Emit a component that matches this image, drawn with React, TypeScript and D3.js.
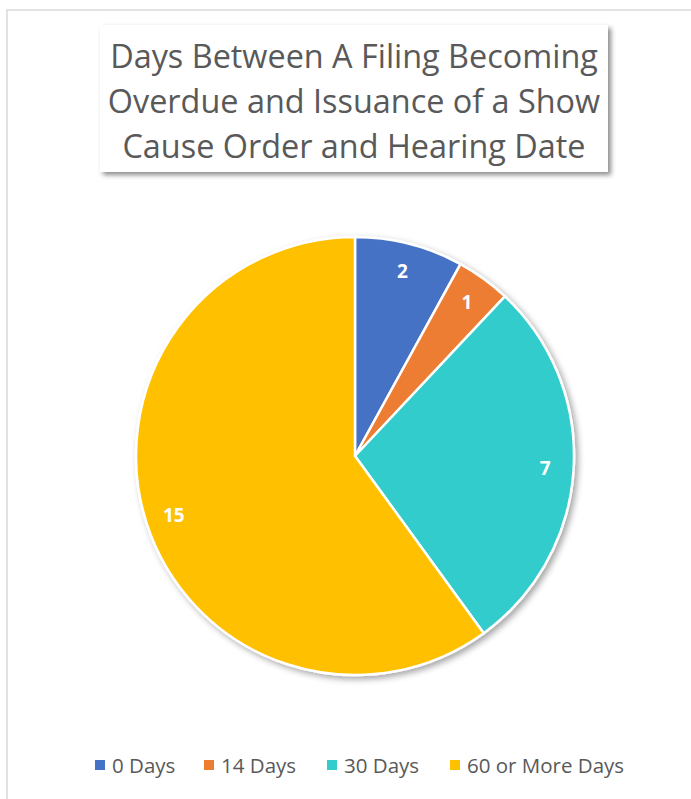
import React from "react";
import * as d3 from "d3";

const categories = ["0 Days", "14 Days", "30 Days", "60 or More Days"];
const values = [2, 1, 7, 15];
const colors = ["#4472C4", "#ED7D31", "#33CCCC", "#FFC000"];
const titleLines = [
  "Days Between A Filing Becoming",
  "Overdue and Issuance of a Show",
  "Cause Order and Hearing Date",
];

const W = 691;
const H = 799;
const FONT = "'Open Sans', Calibri, sans-serif";

export default function App() {
  const cx = 355;
  const cy = 456;
  const r = 219;
  const pie = d3.pie<number>().sort(null).value((d) => d);
  const arcs = pie(values);
  const arc = d3.arc<d3.PieArcDatum<number>>().innerRadius(0).outerRadius(r);
  const labelArc = d3
    .arc<d3.PieArcDatum<number>>()
    .innerRadius(r * 0.87)
    .outerRadius(r * 0.87);

  const legendX = [95, 204, 327, 450];

  return (
    <svg
      width={W}
      height={H}
      style={{ position: "absolute", left: 0, top: 0, background: "#fff" }}
    >
      <defs>
        <filter id="sh" x="-20%" y="-20%" width="140%" height="140%">
          <feDropShadow dx="3" dy="3" stdDeviation="2.5" floodColor="#000" floodOpacity="0.45" />
        </filter>
        <filter id="sh2" x="-20%" y="-20%" width="140%" height="140%">
          <feDropShadow dx="3" dy="3" stdDeviation="3" floodColor="#000" floodOpacity="0.35" />
        </filter>
      </defs>
      <rect x={7} y={10} width={W} height={H} fill="#fff" stroke="#d9d9d9" strokeWidth={1.5} />

      <rect x={100} y={25} width={508} height={147} fill="#fff" filter="url(#sh)" />
      {titleLines.map((t, i) => (
        <text
          key={i}
          x={354}
          y={68 + i * 45}
          textAnchor="middle"
          fontFamily={FONT}
          fontSize={32.4}
          fill="#595959"
        >
          {t}
        </text>
      ))}

      <g transform={`translate(${cx},${cy})`}>
        <g filter="url(#sh2)">
          {arcs.map((a, i) => (
            <path key={i} d={arc(a) || ""} fill={colors[i]} stroke="#fff" strokeWidth={2.5} strokeLinejoin="round" />
          ))}
        </g>
        {arcs.map((a, i) => {
          const [x, y] = labelArc.centroid(a);
          return (
            <text
              key={i}
              x={x}
              y={y}
              textAnchor="middle"
              dominantBaseline="central"
              fontFamily={FONT}
              fontWeight="bold"
              fontSize={19}
              fill="#fff"
            >
              {values[i]}
            </text>
          );
        })}
      </g>

      {categories.map((c, i) => (
        <g key={c}>
          <rect x={legendX[i]} y={760} width={10} height={10} fill={colors[i]} />
          <text
            x={legendX[i] + 17}
            y={765}
            dominantBaseline="central"
            fontFamily={FONT}
            fontSize={20.5}
            fill="#595959"
          >
            {c}
          </text>
        </g>
      ))}
    </svg>
  );
}
